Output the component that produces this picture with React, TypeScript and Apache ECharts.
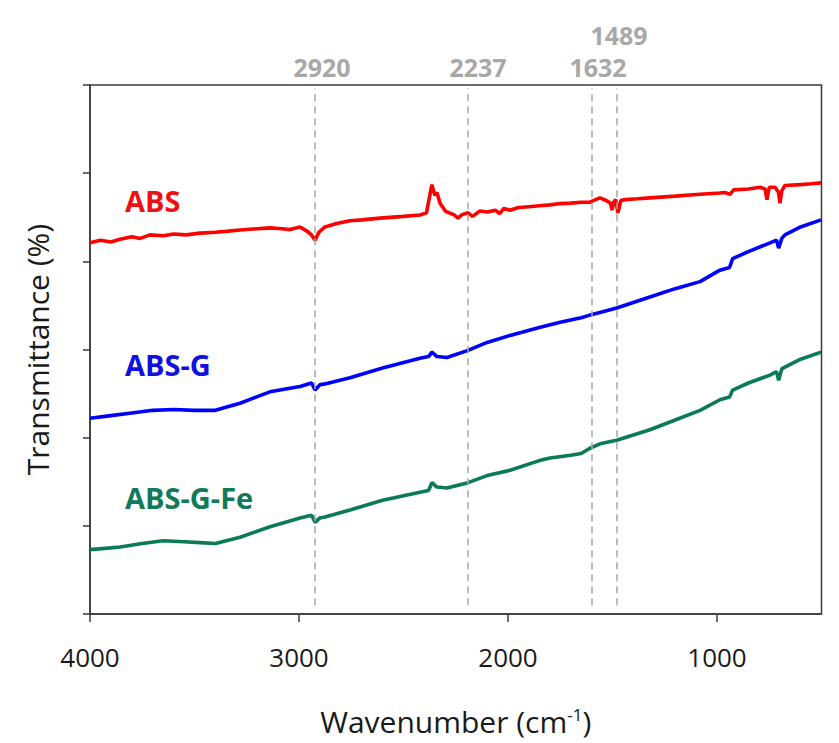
import React, { useEffect, useRef } from "react";
import * as echarts from "echarts";

// ---- data (wavenumber cm^-1, transmittance offset units) ----
const absWn = [4000, 3950, 3900, 3856, 3800, 3760, 3713, 3650, 3600, 3540, 3474, 3400, 3350, 3282, 3200, 3139, 3080, 3043, 3010, 2995, 2960, 2940, 2923, 2905, 2876, 2820, 2756, 2700, 2612, 2500, 2421, 2390, 2370, 2364, 2350, 2340, 2325, 2300, 2292, 2260, 2239, 2220, 2191, 2170, 2134, 2100, 2060, 2040, 2020, 1990, 1950, 1900, 1850, 1799, 1750, 1700, 1650, 1608, 1580, 1560, 1530, 1510, 1502, 1495, 1485, 1474, 1460, 1440, 1380, 1321, 1200, 1081, 986, 960, 938, 920, 850, 794, 770, 761, 750, 722, 705, 699, 690, 675, 600, 550, 502];
const absT = [4.21, 4.24, 4.22, 4.25, 4.28, 4.26, 4.30, 4.29, 4.31, 4.30, 4.32, 4.33, 4.34, 4.355, 4.37, 4.38, 4.37, 4.36, 4.38, 4.39, 4.34, 4.30, 4.24, 4.33, 4.39, 4.43, 4.46, 4.47, 4.49, 4.51, 4.525, 4.55, 4.80, 4.87, 4.75, 4.78, 4.66, 4.57, 4.56, 4.53, 4.49, 4.53, 4.55, 4.51, 4.57, 4.56, 4.58, 4.54, 4.60, 4.58, 4.61, 4.62, 4.63, 4.64, 4.655, 4.66, 4.67, 4.67, 4.70, 4.72, 4.69, 4.66, 4.58, 4.67, 4.70, 4.55, 4.69, 4.70, 4.71, 4.72, 4.74, 4.76, 4.775, 4.78, 4.76, 4.81, 4.82, 4.84, 4.82, 4.70, 4.84, 4.84, 4.78, 4.66, 4.80, 4.86, 4.87, 4.88, 4.89];

const absGWn = [4000, 3900, 3800, 3700, 3600, 3500, 3400, 3282, 3139, 2995, 2940, 2923, 2900, 2876, 2756, 2600, 2421, 2380, 2364, 2340, 2292, 2191, 2100, 1990, 1850, 1750, 1650, 1608, 1560, 1480, 1321, 1200, 1081, 986, 940, 925, 850, 746, 715, 705, 690, 675, 600, 502];
const absGT = [2.22, 2.25, 2.28, 2.31, 2.32, 2.31, 2.31, 2.39, 2.52, 2.58, 2.62, 2.54, 2.60, 2.61, 2.68, 2.79, 2.90, 2.92, 2.97, 2.92, 2.91, 2.99, 3.08, 3.16, 3.25, 3.31, 3.36, 3.39, 3.42, 3.47, 3.595, 3.69, 3.77, 3.90, 3.93, 4.03, 4.11, 4.21, 4.24, 4.15, 4.26, 4.30, 4.39, 4.47];

const absGFeWn = [4000, 3900, 3856, 3750, 3650, 3550, 3474, 3400, 3282, 3139, 2995, 2940, 2923, 2900, 2876, 2756, 2600, 2421, 2380, 2364, 2340, 2292, 2191, 2100, 1990, 1850, 1799, 1700, 1650, 1608, 1560, 1480, 1321, 1200, 1081, 986, 940, 925, 850, 746, 715, 705, 690, 675, 600, 502];
const absGFeT = [0.73, 0.75, 0.76, 0.80, 0.83, 0.82, 0.81, 0.80, 0.87, 0.99, 1.09, 1.12, 1.04, 1.09, 1.10, 1.18, 1.29, 1.38, 1.40, 1.49, 1.44, 1.43, 1.49, 1.57, 1.63, 1.74, 1.77, 1.80, 1.82, 1.88, 1.93, 1.97, 2.09, 2.20, 2.31, 2.43, 2.46, 2.54, 2.62, 2.71, 2.75, 2.65, 2.78, 2.80, 2.89, 2.97];

const seriesNames = ["ABS", "ABS-G", "ABS-G-Fe"];
const peakLines = [2924, 2193, 1600, 1480];
const peakTexts = ["2920", "2237", "1632", "1489"];
const xTicks = [1000, 2000, 3000, 4000];

const FONT = '"Open Sans", "Liberation Sans", sans-serif';

const zip = (xs: number[], ys: number[]) => xs.map((x, i) => [x, ys[i]]);

export default function App() {
  const ref = useRef<HTMLDivElement>(null);
  useEffect(() => {
    document.body.style.margin = "0";
    if (!ref.current) return;
    const chart = echarts.init(ref.current, undefined, { renderer: "svg" });
    const colors = ["#ff0000", "#0000ff", "#0b7a57"];
    const textColors = ["#ee1111", "#1010e0", "#117a5a"];
    const seriesData = [zip(absWn, absT), zip(absGWn, absGT), zip(absGFeWn, absGFeT)];

    const peakLabelPos = [
      [322, 67],
      [478, 67],
      [598, 67],
      [619, 35],
    ];
    const seriesLabelPos = [
      [125, 200],
      [125, 364],
      [125, 497],
    ];

    chart.setOption({
      animation: false,
      backgroundColor: "#ffffff",
      grid: {
        left: 90,
        top: 85,
        right: 17.5,
        bottom: 129,
        show: true,
        borderColor: "#3a3a3a",
        borderWidth: 1.5,
        containLabel: false,
      },
      xAxis: {
        type: "value",
        min: 500,
        max: 4000,
        inverse: true,
        name: "{a|Wavenumber (cm}{s|-1}{a|)}",
        nameLocation: "middle",
        nameGap: 92,
        nameTextStyle: {
          rich: {
            a: { fontSize: 30, fontFamily: FONT, color: "#1a1a1a" },
            s: { fontSize: 17, fontFamily: FONT, color: "#1a1a1a", verticalAlign: "top", padding: [0, 0, 14, 0] },
          },
        },
        axisLine: { show: true, lineStyle: { color: "#3a3a3a", width: 1.5 } },
        axisTick: { show: true, inside: false, length: 8, customValues: xTicks, lineStyle: { color: "#3a3a3a", width: 1.5 } },
        axisLabel: {
          show: true,
          customValues: xTicks,
          formatter: (v: number) => String(Math.round(v)),
          margin: 30,
          fontSize: 26,
          fontFamily: FONT,
          color: "#1a1a1a",
          showMinLabel: true,
          showMaxLabel: true,
        },
        splitLine: { show: false },
      },
      yAxis: {
        type: "value",
        min: 0,
        max: 6,
        interval: 1,
        name: "Transmittance (%)",
        nameLocation: "middle",
        nameGap: 38,
        nameTextStyle: { fontSize: 30, fontFamily: FONT, color: "#1a1a1a" },
        axisLine: { show: true, lineStyle: { color: "#3a3a3a", width: 1.5 } },
        axisTick: { show: true, inside: false, length: 7, lineStyle: { color: "#3a3a3a", width: 1.5 } },
        axisLabel: { show: false },
        splitLine: { show: false },
      },
      series: [
        ...seriesData.map((d, i) => ({
          type: "line",
          name: seriesNames[i],
          data: d,
          showSymbol: false,
          symbol: "none",
          smooth: false,
          lineStyle: { color: colors[i], width: 3.6 },
          z: 3,
        })),
        {
          type: "line",
          data: [],
          markLine: {
            silent: true,
            symbol: "none",
            label: { show: false },
            lineStyle: { color: "#a6a6a6", width: 1.5, type: [7, 5] },
            data: peakLines.map((w) => [{ coord: [w, 0.1] }, { coord: [w, 5.96] }]),
          },
          z: 1,
        },
      ],
      graphic: [
        ...peakTexts.map((t, i) => ({
          type: "text",
          x: peakLabelPos[i][0],
          y: peakLabelPos[i][1],
          style: {
            text: t,
            fill: "#a8a8a8",
            fontSize: 25,
            lineHeight: 25,
            fontWeight: "bold",
            fontFamily: FONT,
            align: "center",
            verticalAlign: "middle",
          },
        })),
        ...seriesNames.map((t, i) => ({
          type: "text",
          x: seriesLabelPos[i][0],
          y: seriesLabelPos[i][1],
          style: {
            text: t,
            fill: textColors[i],
            fontSize: 29,
            fontWeight: "bold",
            fontFamily: FONT,
            align: "left",
            verticalAlign: "middle",
          },
        })),
      ],
    });
    return () => chart.dispose();
  }, []);
  return <div ref={ref} style={{ width: 839, height: 743 }} />;
}
